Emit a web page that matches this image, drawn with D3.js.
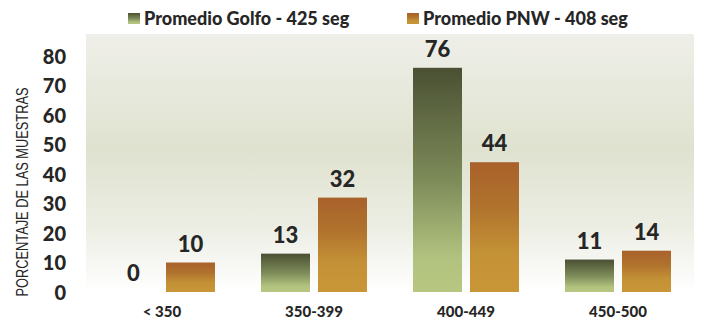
<!DOCTYPE html>
<html>
<head>
<meta charset="utf-8">
<script src="https://cdn.jsdelivr.net/npm/d3@7"></script>
<style>
  html, body { margin: 0; padding: 0; background: #ffffff; }
  svg { display: block; }
</style>
</head>
<body>
<div id="chart"></div>
<script>
// Data
const categories = ["< 350", "350-399", "400-449", "450-500"];
const golfo = [0, 13, 76, 11];
const pnw = [10, 32, 44, 14];
const seriesNames = ["Promedio Golfo - 425 seg", "Promedio PNW - 408 seg"];
const yTicks = [0, 10, 20, 30, 40, 50, 60, 70, 80];
const yTitle = "PORCENTAJE DE LAS MUESTRAS";

const W = 704, H = 321;
const svg = d3.select("#chart").append("svg").attr("width", W).attr("height", H);

const FONT = "Lato, 'Open Sans', sans-serif";

const defs = svg.append("defs");
function vGrad(id, stops) {
  const g = defs.append("linearGradient").attr("id", id)
    .attr("x1", 0).attr("y1", 0).attr("x2", 0).attr("y2", 1);
  stops.forEach(([o, c]) => g.append("stop").attr("offset", o).attr("stop-color", c));
}
vGrad("bg", [[0, "#efefe9"], [0.45, "#dfe2cf"], [0.75, "#eceee4"], [1, "#ffffff"]]);
vGrad("gGolfo", [[0, "#4a5033"], [0.5, "#7d8b59"], [0.85, "#b2c37f"], [1, "#b7c782"]]);
vGrad("gPnw", [[0, "#a9612b"], [0.35, "#b0732d"], [0.7, "#c49236"], [1, "#c99637"]]);

const plot = { left: 86, right: 694, top: 34, bottom: 292 };

const x0 = d3.scaleBand().domain(categories).range([plot.left, plot.right]).paddingInner(0).paddingOuter(0);
const y = d3.scaleLinear().domain([0, 80]).range([plot.bottom, plot.bottom - 80 * 2.95]);

// Plot area background
svg.append("rect")
  .attr("x", plot.left).attr("y", plot.top)
  .attr("width", plot.right - plot.left).attr("height", plot.bottom - plot.top)
  .attr("fill", "url(#bg)");

// Bars
const barW = 49, gap = 8;
const series = [
  { values: golfo, fill: "url(#gGolfo)", dx: -(gap / 2) - barW },
  { values: pnw, fill: "url(#gPnw)", dx: gap / 2 }
];

series.forEach(s => {
  const grp = svg.append("g");
  grp.selectAll("rect").data(categories).join("rect")
    .attr("x", (c) => x0(c) + x0.bandwidth() / 2 + s.dx)
    .attr("y", (c, i) => y(s.values[i]))
    .attr("width", barW)
    .attr("height", (c, i) => y(0) - y(s.values[i]))
    .attr("fill", s.fill);
  grp.selectAll("text").data(categories).join("text")
    .attr("x", (c) => x0(c) + x0.bandwidth() / 2 + s.dx + barW / 2)
    .attr("y", (c, i) => y(s.values[i]) - 11)
    .attr("text-anchor", "middle")
    .attr("font-family", FONT)
    .attr("font-weight", 900)
    .attr("font-size", 22)
    .attr("fill", "#262626")
    .text((c, i) => s.values[i]);
});

// Y axis (labels only)
const yAxis = d3.axisLeft(y).tickValues(yTicks).tickSize(0).tickPadding(0);
const yG = svg.append("g").attr("transform", "translate(66,0)").call(yAxis);
yG.select(".domain").remove();
yG.selectAll("text")
  .attr("font-family", FONT)
  .attr("font-weight", 900)
  .attr("font-size", 20)
  .attr("fill", "#262626")
  .attr("dy", "0.36em");

// X axis (labels only)
const xAxis = d3.axisBottom(x0).tickSize(0).tickPadding(0);
const xG = svg.append("g").attr("transform", "translate(0,306)").call(xAxis);
xG.select(".domain").remove();
xG.selectAll("text")
  .attr("font-family", FONT)
  .attr("font-weight", 900)
  .attr("font-size", 15)
  .attr("fill", "#262626")
  .attr("dy", "0.75em");

// Y axis title
svg.append("text")
  .attr("transform", "translate(28,192) rotate(-90)")
  .attr("text-anchor", "middle")
  .attr("font-family", "'Liberation Sans', Arial, sans-serif")
  .attr("font-size", 17)
  .attr("fill", "#262626")
  .attr("textLength", 209)
  .attr("lengthAdjust", "spacingAndGlyphs")
  .text(yTitle);

// Legend
const legend = [
  { name: seriesNames[0], fill: "url(#gGolfo)", x: 128 },
  { name: seriesNames[1], fill: "url(#gPnw)", x: 407 }
];
legend.forEach(l => {
  svg.append("rect").attr("x", l.x).attr("y", 13).attr("width", 12).attr("height", 11).attr("fill", l.fill);
  svg.append("text")
    .attr("x", l.x + 16).attr("y", 25)
    .attr("font-family", FONT)
    .attr("font-weight", 900)
    .attr("font-size", 18)
    .attr("fill", "#262626")
    .text(l.name);
});
</script>
</body>
</html>
